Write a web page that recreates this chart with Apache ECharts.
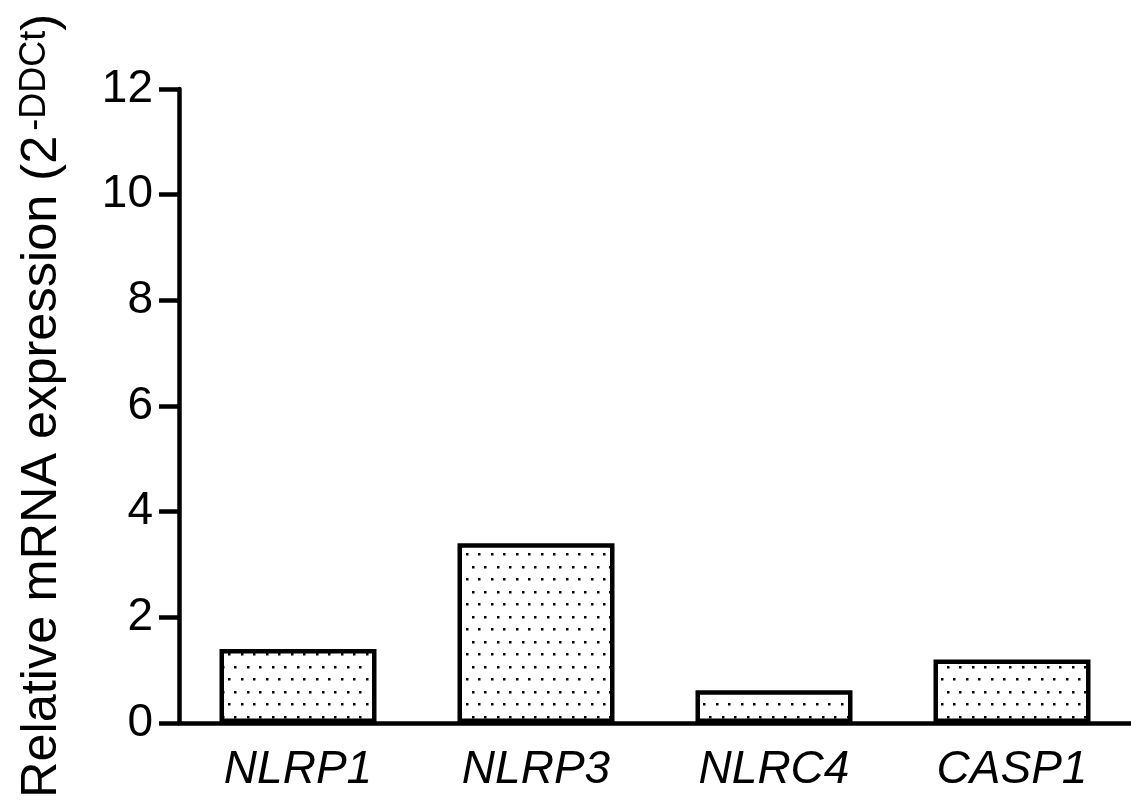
<!DOCTYPE html>
<html>
<head>
<meta charset="utf-8">
<script src="https://cdn.jsdelivr.net/npm/echarts@6/dist/echarts.min.js"></script>
<style>
html,body{margin:0;padding:0;background:#fff;}
#chart{width:1131px;height:803px;}
</style>
</head>
<body>
<div id="chart"></div>
<script>
const categories = ['NLRP1', 'NLRP3', 'NLRC4', 'CASP1'];
const values = [1.4, 3.4, 0.62, 1.2];
const yTicks = [0, 2, 4, 6, 8, 10, 12];

function dotPattern() {
  const c = document.createElement('canvas');
  const s = 12.7;
  c.width = Math.round(s * 2);
  c.height = Math.round(s * 2);
  const ctx = c.getContext('2d');
  ctx.fillStyle = '#fff';
  ctx.fillRect(0, 0, c.width, c.height);
  ctx.fillStyle = '#000';
  const pts = [[3, 3], [3 + s, 3], [3 + s / 2, 3 + s], [3 + 1.5 * s, 3 + s]];
  pts.forEach(p => { ctx.fillRect(Math.round(p[0]) , Math.round(p[1]), 2.5, 2.5); });
  return c;
}

const chart = echarts.init(document.getElementById('chart'), null, {renderer: 'canvas'});
const font = '"Liberation Sans", Arial, sans-serif';
chart.setOption({
  animation: false,
  backgroundColor: '#fff',
  grid: {left: 179, right: 0, top: 89, bottom: 80, containLabel: false, outerBoundsMode: 'none'},
  xAxis: {
    type: 'category',
    data: categories,
    axisLine: {lineStyle: {color: '#000', width: 4.5}},
    axisTick: {show: false},
    axisLabel: {color: '#000', fontSize: 46, fontStyle: 'italic', fontFamily: font, margin: 24}
  },
  yAxis: {
    type: 'value',
    min: 0, max: 12, interval: 2,
    axisLine: {show: true, lineStyle: {color: '#000', width: 4.5}},
    axisTick: {show: true, length: 20, lineStyle: {color: '#000', width: 4.5}},
    splitLine: {show: false},
    axisLabel: {color: '#000', fontSize: 46, fontFamily: font, margin: 26,
      formatter: v => yTicks.includes(v) ? String(v) : ''},
    name: '{a|Relative mRNA expression (2}{b|-DDCt}{a|)}',
    nameLocation: 'middle',
    nameRotate: 90,
    nameGap: 112,
    nameTextStyle: {
      rich: {
        a: {fontSize: 50.5, fontFamily: font, color: '#000', lineHeight: 50, verticalAlign: 'middle'},
        b: {fontSize: 36, fontFamily: font, color: '#000', lineHeight: 36, verticalAlign: 'top', padding: [0, 0, 0, 5]}
      }
    }
  },
  series: [{
    type: 'bar',
    data: values,
    barWidth: 157,
    itemStyle: {
      color: {image: dotPattern(), repeat: 'repeat'},
      borderColor: '#000',
      borderWidth: 4.5
    }
  }]
});
</script>
</body>
</html>
